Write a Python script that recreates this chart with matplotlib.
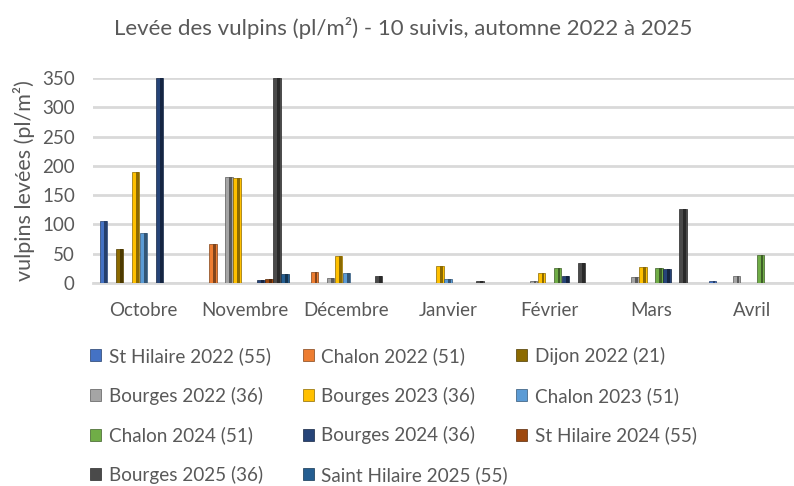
# Levée des vulpins - grouped bars, 11 suivis x 7 mois
import matplotlib.pyplot as plt
import matplotlib.colors as mcolors
import numpy as np

# Data
MONTHS = ["Octobre", "Novembre", "Décembre", "Janvier", "Février", "Mars", "Avril"]
SERIES = [
    "St Hilaire 2022 (55)", "Chalon 2022 (51)", "Dijon 2022 (21)",
    "Bourges 2022 (36)", "Bourges 2023 (36)", "Chalon 2023 (51)",
    "Chalon 2024 (51)", "Bourges 2024 (36)", "St Hilaire 2024 (55)",
    "Bourges 2025 (36)", "Saint Hilaire 2025 (55)",
]
nan = np.nan
st_hilaire_2022 = [106, nan, nan, nan, nan, nan, 3]
chalon_2022 = [nan, 66, 19, nan, nan, nan, nan]
dijon_2022 = [58, nan, nan, nan, nan, nan, nan]
bourges_2022 = [nan, 181, 8, nan, 3, 10, 12]
bourges_2023 = [189, 179, 46, 28, 17, 27, nan]
chalon_2023 = [85, nan, 16, 6, nan, nan, nan]
chalon_2024 = [nan, nan, nan, nan, 26, 26, 48]
bourges_2024 = [350, 5, nan, nan, 11, 23, nan]
st_hilaire_2024 = [nan, 7, nan, nan, nan, nan, nan]
bourges_2025 = [nan, 350, 11, 3, 34, 126, nan]
saint_hilaire_2025 = [nan, 15, nan, nan, nan, nan, nan]

VALUES = [st_hilaire_2022, chalon_2022, dijon_2022, bourges_2022, bourges_2023,
          chalon_2023, chalon_2024, bourges_2024, st_hilaire_2024,
          bourges_2025, saint_hilaire_2025]

COLORS = ["#4472C4", "#ED7D31", "#8C6A00", "#A5A5A5", "#FFC000", "#5B9BD5",
          "#70AD47", "#264478", "#9E480E", "#4A4A4A", "#255E91"]

TEXT_COLOR = "#595959"
FONT = "Lato"

plt.rcParams["font.family"] = [FONT, "DejaVu Sans"]

fig = plt.figure(figsize=(7.94, 4.86), dpi=100)
ax = fig.add_axes([0.117, 0.418, 0.883, 0.4215])

x = np.arange(len(MONTHS))
step = 0.079
width = 0.074

handles = []
for i, (vals, col) in enumerate(zip(VALUES, COLORS)):
    pos = x + (i - 5) * step
    dark = np.array(mcolors.to_rgb(col)) * 0.55
    b = ax.bar(pos, vals, width, color=col, edgecolor=dark, linewidth=0.5, zorder=3)
    # darker right face for the 3D look
    ax.bar(pos + width * 0.22, vals, width * 0.36, color=dark, linewidth=0, zorder=4)
    handles.append(b)

ax.set_xlim(-0.5, 6.41)
ax.set_ylim(0, 350)
ax.set_yticks(np.arange(0, 351, 50))
ax.set_xticks(x)
ax.set_xticklabels(MONTHS)
ax.yaxis.grid(True, color="#D9D9D9", linewidth=2, zorder=0)
ax.set_axisbelow(True)
for s in ["top", "right", "left"]:
    ax.spines[s].set_visible(False)
ax.spines["bottom"].set_color("#D9D9D9")
ax.spines["bottom"].set_linewidth(2)
ax.tick_params(axis="both", length=0, labelsize=13.5, labelcolor=TEXT_COLOR)
ax.tick_params(axis="y", pad=13)
ax.tick_params(axis="x", pad=14)

ax.set_ylabel("vulpins levées (pl/m²)", fontsize=15.5, color=TEXT_COLOR, labelpad=5)
fig.text(0.508, 0.943, "Levée des vulpins (pl/m²) - 10 suivis, automne 2022 à 2025",
         ha="center", va="center", fontsize=16, color=TEXT_COLOR)

# Legend: one legend per column so the columns sit where Excel puts them
col_x = [0.113, 0.381, 0.650]
for c in range(3):
    idx = list(range(c, len(SERIES), 3))
    fig.legend([handles[k] for k in idx], [SERIES[k] for k in idx],
               loc="upper left", bbox_to_anchor=(col_x[c], 0.286),
               frameon=False, fontsize=13.6, labelcolor=TEXT_COLOR,
               handlelength=0.6, handleheight=0.6, handletextpad=0.4,
               labelspacing=1.15, borderaxespad=0, borderpad=0)

fig.savefig("out.png", dpi=100)
